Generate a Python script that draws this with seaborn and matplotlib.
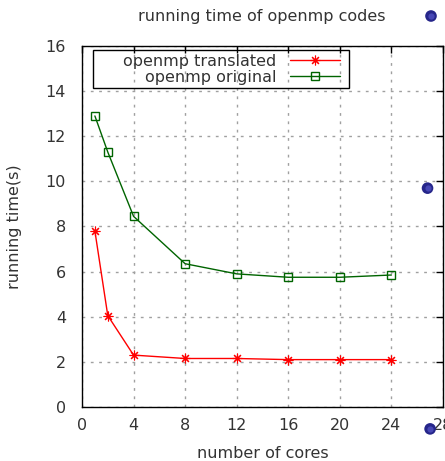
import matplotlib
matplotlib.use("Agg")
import matplotlib.pyplot as plt
from matplotlib.patches import Rectangle
import seaborn as sns
import pandas as pd

# data
cores = [1, 2, 4, 8, 12, 16, 20, 24]
translated = [7.8, 4.05, 2.3, 2.15, 2.15, 2.1, 2.1, 2.1]
original = [12.9, 11.3, 8.45, 6.35, 5.9, 5.75, 5.75, 5.85]
sphere_x = [26.8, 27.0]
sphere_y = [9.7, -0.97]

x_ticks = [0, 4, 8, 12, 16, 20, 24, 28]
y_ticks = [0, 2, 4, 6, 8, 10, 12, 14, 16]

sns.set_theme(style="white")
plt.rcParams["font.family"] = ["DejaVu Sans"]

FS = 11.5
W, H = 445, 461
AW, AH = 361, 361
fig = plt.figure(figsize=(W / 100, H / 100), dpi=100)
ax = fig.add_axes([82 / W, 1 - 407 / H, AW / W, AH / H])

df_t = pd.DataFrame({"cores": cores, "time": translated})
df_o = pd.DataFrame({"cores": cores, "time": original})

sns.lineplot(data=df_t, x="cores", y="time", ax=ax, color="#ff0000",
             marker=(8, 2, 0), markersize=7, markeredgecolor="#ff0000",
             markeredgewidth=0.8, linewidth=1.0, label="openmp translated")
sns.lineplot(data=df_o, x="cores", y="time", ax=ax, color="#006400",
             marker="s", markersize=6, markerfacecolor="none",
             markeredgecolor="#006400", markeredgewidth=1.0,
             linewidth=1.0, label="openmp original")


def sphere(x, y, transform):
    ax.scatter([x], [y], s=70, color="#26268a", edgecolors="none",
               zorder=5, clip_on=False, transform=transform)
    ax.scatter([x], [y], s=20, color="#5050c0", zorder=6, clip_on=False,
               linewidths=0, alpha=0.8, transform=transform)


for sx, sy in zip(sphere_x, sphere_y):
    sphere(sx, sy, ax.transData)
sphere(431 / W, 1 - 16 / H, fig.transFigure)

ax.set_xlim(0, 28)
ax.set_ylim(0, 16)
ax.set_xticks(x_ticks)
ax.set_yticks(y_ticks)
ax.tick_params(direction="in", length=5, width=1, top=True, right=True,
               labelsize=FS, colors="black", labelcolor="#333333")
ax.tick_params(axis="x", pad=8)
ax.tick_params(axis="y", pad=11.5)
ax.grid(True, linestyle=(0, (2, 4)), color="#a0a0a0", linewidth=1)
for sp in ax.spines.values():
    sp.set_color("black")
    sp.set_linewidth(1)

ax.set_xlabel("number of cores", fontsize=FS, color="#333333", labelpad=9)
ax.set_ylabel("running time(s)", fontsize=FS, color="#333333", labelpad=17)

fig.text(262 / W, 1 - 16 / H, "running time of openmp codes",
         fontsize=FS, color="#333333", ha="center", va="center")

# legend: text right of box, own frame like gnuplot's key box
leg = ax.legend(loc="upper right",
                bbox_to_anchor=((344 - 82) / AW, (407 - 50) / AH),
                borderaxespad=0, markerfirst=False, frameon=False,
                fontsize=FS, handlelength=3.1, borderpad=0.25,
                labelspacing=0.05, handletextpad=0.9)
for t in leg.get_texts():
    t.set_color("#333333")
ax.add_patch(Rectangle((11 / AW, (407 - 88) / AH), 256 / AW, 38 / AH,
                       transform=ax.transAxes, fill=False,
                       edgecolor="black", linewidth=1, zorder=4))

fig.savefig("out.png", dpi=100)
